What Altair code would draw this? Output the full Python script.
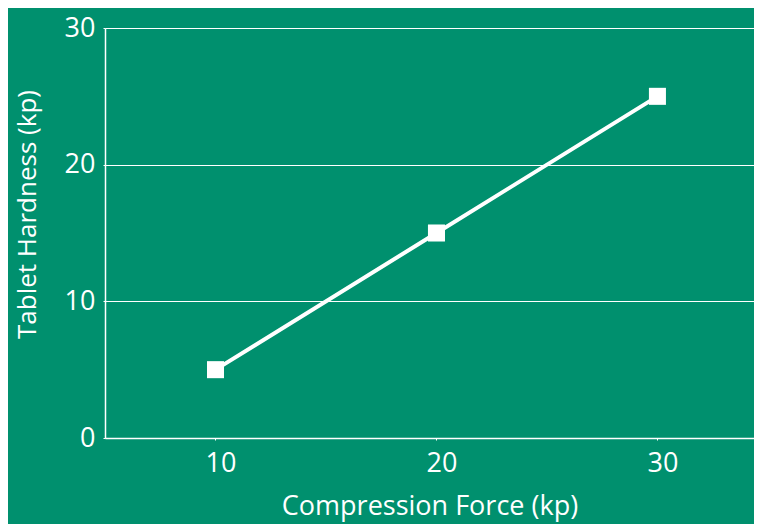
import altair as alt
import pandas as pd

force = [10, 20, 30]
hardness = [5, 15, 25]
x_ticks = [10, 20, 30]
y_ticks = [0, 10, 20, 30]

df = pd.DataFrame({"force": force, "hardness": hardness})

FONT = "Open Sans"
BG = "#00906E"

base = alt.Chart(df)

line = base.mark_line(color="white", strokeWidth=4, clip=False).encode(
    x=alt.X(
        "force:Q",
        scale=alt.Scale(domain=[5, 34.37], nice=False, zero=False),
        axis=alt.Axis(
            values=x_ticks,
            title="Compression Force (kp)",
            grid=False,
            labelOffset=5,
            labelPadding=10,
            tickSize=2,
            titleY=76,
            titleFontSize=27,
            titleBaseline="alphabetic",
        ),
    ),
    y=alt.Y(
        "hardness:Q",
        scale=alt.Scale(domain=[0, 30], nice=False),
        axis=alt.Axis(
            values=y_ticks,
            title="Tablet Hardness (kp)",
            grid=True,
            labelPadding=8,
            tickSize=2,
            titleX=-70,
            titleY=186,
            titleFontSize=26,
            titleBaseline="alphabetic",
        ),
    ),
)

points = base.mark_point(
    shape="square", filled=True, color="white", size=290, opacity=1
).encode(x="force:Q", y="hardness:Q")

chart = (
    (line + points)
    .properties(
        width=649,
        height=410,
        background=BG,
        padding={"left": 97, "top": 20, "right": 0, "bottom": 86},
        autosize=alt.AutoSizeParams(type="none"),
    )
    .configure_view(stroke=None, fill=BG)
    .configure_axis(
        domainColor="white",
        domainWidth=1.5,
        tickColor="white",
        gridColor="white",
        gridWidth=1.2,
        gridOpacity=1,
        labelColor="white",
        labelFont=FONT,
        labelFontSize=27,
        labelFontWeight="normal",
        titleColor="white",
        titleFont=FONT,
        titleFontWeight="normal",
    )
)

chart.save("out.html", embed_options={"renderer": "svg", "actions": False})
